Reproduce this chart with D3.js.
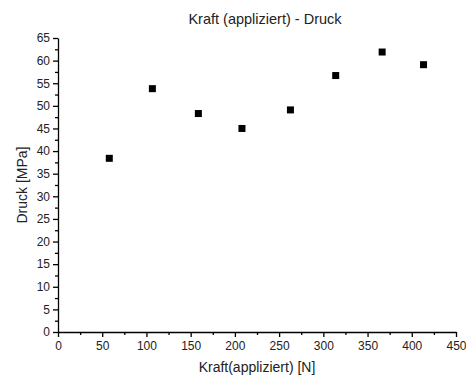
<!DOCTYPE html>
<html>
<head>
<meta charset="utf-8">
<script src="https://cdn.jsdelivr.net/npm/d3@7"></script>
<style>
  body { margin: 0; background: #fff; }
  text { font-family: "Liberation Sans", Arial, sans-serif; }
</style>
</head>
<body>
<div id="chart"></div>
<script>
// Data
const kraft = [58, 106.7, 158.7, 208, 262.8, 314, 366.5, 413.3];
const druck = [38.4, 53.8, 48.3, 45.0, 49.1, 56.7, 61.9, 59.1];
const xTicks = [0, 50, 100, 150, 200, 250, 300, 350, 400, 450];
const yTicks = [0, 5, 10, 15, 20, 25, 30, 35, 40, 45, 50, 55, 60, 65];

const width = 466, height = 378;
const margin = {top: 38, right: 10, bottom: 46, left: 58};
const innerW = 456 - margin.left;
const innerH = 332 - margin.top;

const svg = d3.select("#chart").append("svg")
  .attr("width", width)
  .attr("height", height);

const g = svg.append("g")
  .attr("transform", `translate(${margin.left},${margin.top})`);

const x = d3.scaleLinear().domain([0, 450]).range([0, innerW]);
const y = d3.scaleLinear().domain([0, 65]).range([innerH, 0]);

// minor ticks first
g.append("g")
  .attr("transform", `translate(0,${innerH})`)
  .call(d3.axisBottom(x).tickValues(d3.range(25, 450, 50)).tickSize(3).tickFormat(""))
  .call(a => a.select(".domain").remove());

g.append("g")
  .call(d3.axisLeft(y).tickValues(d3.range(2.5, 65, 5)).tickSize(3).tickFormat(""))
  .call(a => a.select(".domain").remove());

// major axes
g.append("g")
  .attr("transform", `translate(0,${innerH})`)
  .call(d3.axisBottom(x).tickValues(xTicks).tickSize(5).tickSizeOuter(0).tickPadding(4));

g.append("g")
  .call(d3.axisLeft(y).tickValues(yTicks).tickSize(5).tickSizeOuter(0).tickPadding(3));

g.selectAll(".tick line, .domain").attr("stroke", "#000").attr("stroke-width", 1.3);
g.selectAll(".tick text").attr("font-size", "12px").attr("fill", "#222")
  .style("font-family", "Liberation Sans, Arial, sans-serif");

// points
const pts = kraft.map((k, i) => ({k: k, d: druck[i]}));
const s = 7;
g.selectAll("rect.pt")
  .data(pts)
  .enter().append("rect")
  .attr("class", "pt")
  .attr("x", d => x(d.k) - s / 2)
  .attr("y", d => y(d.d) - s / 2)
  .attr("width", s)
  .attr("height", s)
  .attr("fill", "#000");

// title
svg.append("text")
  .attr("x", 265)
  .attr("y", 24)
  .attr("text-anchor", "middle")
  .style("font-size", "14.5px")
  .attr("fill", "#222")
  .text("Kraft (appliziert) - Druck");

// axis labels
svg.append("text")
  .attr("x", margin.left + innerW / 2)
  .attr("y", 372)
  .attr("text-anchor", "middle")
  .style("font-size", "14px")
  .attr("fill", "#222")
  .text("Kraft(appliziert) [N]");

svg.append("text")
  .attr("transform", "rotate(-90)")
  .attr("x", -(margin.top + innerH / 2))
  .attr("y", 27)
  .attr("text-anchor", "middle")
  .style("font-size", "14px")
  .attr("fill", "#222")
  .text("Druck [MPa]");
</script>
</body>
</html>
